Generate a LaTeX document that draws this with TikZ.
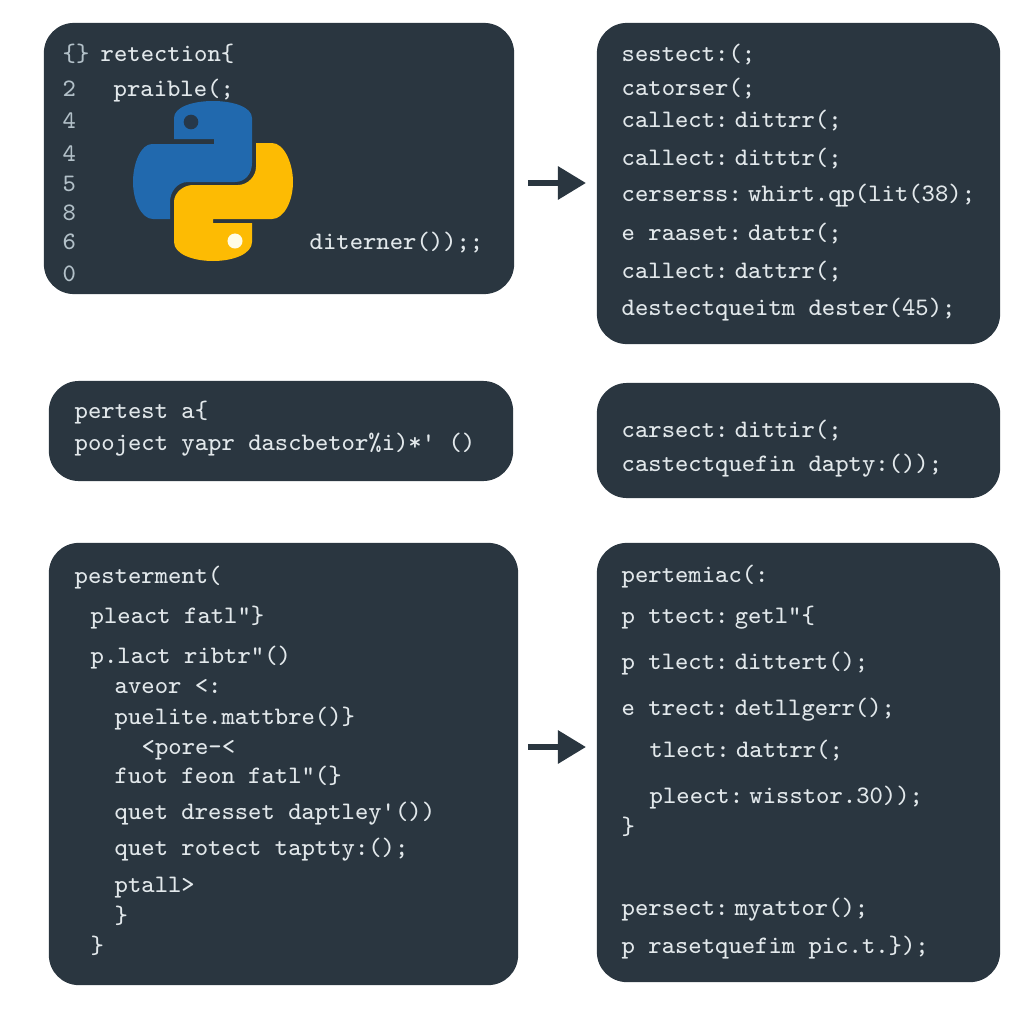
\documentclass[tikz,border=0pt]{standalone}
\usepackage{xcolor}
\usepackage{tikz}
\usetikzlibrary{arrows.meta, positioning, calc}
\definecolor{panelbg}{RGB}{42, 54, 64}
\definecolor{codetext}{RGB}{226, 232, 235}
\definecolor{linenum}{RGB}{178, 192, 200}
\definecolor{logoblue}{RGB}{33, 105, 174}
\definecolor{logoyellow}{RGB}{253, 187, 3}
\definecolor{logoeye}{RGB}{38, 56, 74}
\definecolor{logodot}{RGB}{255, 252, 230}
\newcommand{\codefont}{\ttfamily\fontsize{7.15}{9}\selectfont\xspaceskip=0.25em\relax}
\tikzset{
    panel/.style={rectangle, fill=panelbg, rounded corners=0.3cm, inner sep=0pt},
    code/.style={anchor=base west, inner sep=0pt, text=codetext, font=\codefont},
    lineno/.style={code, text=linenum},
    flowarrow/.style={line width=0.06cm, panelbg, -{Triangle[length=0.28cm, width=0.32cm]}, shorten >=0.11cm}
}
\begin{document}
\begin{tikzpicture}[x=0.01cm, y=-0.01cm]
        \useasboundingbox (0,0) rectangle (1024,1024);
        % Panels
        \node[panel, minimum width=4.70cm, minimum height=2.71cm] (boxa) at (279,158.5) {};
        \node[panel, minimum width=4.03cm, minimum height=3.21cm] (boxb) at (798.5,183.5) {};
        \node[panel, minimum width=4.64cm, minimum height=1.00cm] (boxc) at (281,431) {};
        \node[panel, minimum width=4.03cm, minimum height=1.15cm] (boxd) at (798.5,440.5) {};
        \node[panel, minimum width=4.69cm, minimum height=4.42cm] (boxe) at (283.5,764) {};
        \node[panel, minimum width=4.03cm, minimum height=4.39cm] (boxf) at (798.5,762.5) {};
        
        % Arrows
        \coordinate (inb) at (597,183);
        \coordinate (inf) at (597,747);
        \draw[flowarrow, shorten <=0.13cm] (boxa.east |- inb) -- (inb);
        \draw[flowarrow, shorten <=0.09cm] (boxe.east |- inf) -- (inf);
        
        % Python logo
        \fill[logoblue] (174,139) -- (174,118) .. controls (174,107) and (193,101) .. (213,101)
            .. controls (233,101) and (252,107) .. (252,118) -- (252,163)
            .. controls (252,174) and (245,182) .. (235,182) -- (188,182)
            .. controls (177,182) and (170,192) .. (170,202) -- (170,219) -- (153,219)
            .. controls (141,219) and (133,200) .. (133,182)
            .. controls (133,163) and (141,144) .. (152,144) -- (214,144) -- (214,139) -- cycle;
        \fill[logoyellow] (272,143) .. controls (284,143) and (293,163) .. (293,182)
            .. controls (293,201) and (284,219) .. (272,219) -- (213,219) -- (213,223) -- (252,223) -- (252,242)
            .. controls (252,254) and (233,261) .. (213,261)
            .. controls (193,261) and (174,254) .. (174,242) -- (174,202)
            .. controls (174,193) and (183,185) .. (193,185) -- (238,185)
            .. controls (248,185) and (256,176) .. (256,167) -- (256,143) -- cycle;
        \fill[logoeye] (191,122) circle (0.073cm);
        \fill[logodot] (235,241) circle (0.075cm);
        
        % Top left panel
        \node[lineno] (na1) at (62,61) {\{\}};
        \node[lineno] (na2) at (62,97) {2};
        \node[lineno] (na3) at (62,128) {4};
        \node[lineno] (na4) at (62,161) {4};
        \node[lineno] (na5) at (62,191) {5};
        \node[lineno] (na6) at (62,220) {8};
        \node[lineno] (na7) at (62,249) {6};
        \node[lineno] (na8) at (62,281) {0};
        \node[code] (la1) at (100,61) {retection\{};
        \node[code] (la2) at (113,96) {praible(;};
        \node[code] (la3) at (309,249) {diterner());;};
        
        % Top right panel
        \node[code] (lb1) at (621,61) {sestect:(;};
        \node[code] (lb2) at (621,95) {catorser(;};
        \node[code] (lb3) at (621,127) {callect: dittrr(;};
        \node[code] (lb4) at (621,165) {callect: ditttr(;};
        \node[code] (lb5) at (621,201) {cerserss: whirt.qp(lit(38);};
        \node[code] (lb6) at (621,240) {e raaset: dattr(;};
        \node[code] (lb7) at (621,278) {callect: dattrr(;};
        \node[code] (lb8) at (621,315) {destectqueitm dester(45);};
        
        % Middle panels
        \node[code] (lc1) at (74,418) {pertest a\{};
        \node[code] (lc2) at (74,450) {pooject yapr dascbetor\%i)*' ()};
        \node[code] (ld1) at (621,437) {carsect: dittir(;};
        \node[code] (ld2) at (621,471) {castectquefin dapty:());};
        
        % Bottom left panel
        \node[code] (le1) at (74,583) {pesterment(};
        \node[code] (le2) at (90,623) {pleact fatl"\}};
        \node[code] (le3) at (90,663) {p.lact ribtr"()};
        \node[code] (le4) at (114,693) {aveor <:};
        \node[code] (le5) at (114,724) {puelite.mattbre()\}};
        \node[code] (le6) at (141,754) {<pore-<};
        \node[code] (le7) at (114,783) {fuot feon fatl"(\}};
        \node[code] (le8) at (114,819) {quet dresset daptley'())};
        \node[code] (le9) at (114,855) {quet rotect taptty:();};
        \node[code] (le10) at (114,892) {ptall>};
        \node[code] (le11) at (114,923) {\}};
        \node[code] (le12) at (90,953) {\}};
        
        % Bottom right panel
        \node[code] (lf1) at (621,582) {pertemiac(:};
        \node[code] (lf2) at (621,623) {p ttect: getl"\{};
        \node[code] (lf3) at (621,669) {p tlect: dittert();};
        \node[code] (lf4) at (621,715) {e trect: detllgerr();};
        \node[code] (lf5) at (649,757) {tlect: dattrr(;};
        \node[code] (lf6) at (649,803) {pleect: wisstor.30));};
        \node[code] (lf7) at (621,834) {\}};
        \node[code] (lf8) at (621,915) {persect: myattor();};
        \node[code] (lf9) at (621,953) {p rasetquefim pic.t.\});};
    \end{tikzpicture}
\end{document}
